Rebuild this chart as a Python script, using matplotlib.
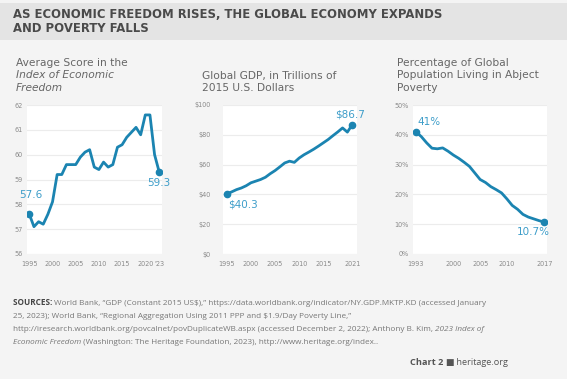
import matplotlib.pyplot as plt
from matplotlib.patches import Rectangle

plt.rcParams['font.family'] = ['DejaVu Sans']

# Index of Economic Freedom, average score
ief_years = list(range(1995, 2024))
ief_score = [57.6, 57.1, 57.3, 57.2, 57.6, 58.1, 59.2, 59.2, 59.6, 59.6,
             59.6, 59.9, 60.1, 60.2, 59.5, 59.4, 59.7, 59.5, 59.6, 60.3,
             60.4, 60.7, 60.9, 61.1, 60.8, 61.6, 61.6, 60.0, 59.3]
ief_ticks = [1995, 2000, 2005, 2010, 2015, 2020, 2023]
ief_ticklabels = ['1995', '2000', '2005', '2010', '2015', '2020', "'23"]

# Global GDP, trillions of 2015 US$
gdp_years = list(range(1995, 2022))
gdp_value = [40.3, 41.7, 43.2, 44.3, 45.8, 47.8, 48.9, 50.0, 51.5, 53.9,
             56.0, 58.5, 61.1, 62.3, 61.5, 64.4, 66.6, 68.4, 70.3, 72.4,
             74.6, 76.8, 79.4, 81.9, 84.6, 81.8, 86.7]
gdp_ticks = [1995, 2000, 2005, 2010, 2015, 2021]

# Share of global population in abject poverty, %
pov_years = list(range(1993, 2018))
pov_value = [41.0, 39.4, 37.3, 35.5, 35.3, 35.6, 34.5, 33.2, 32.1, 30.8,
             29.4, 27.2, 25.0, 24.0, 22.6, 21.6, 20.5, 18.5, 16.3, 15.0,
             13.3, 12.4, 11.8, 11.2, 10.7]
pov_ticks = [1993, 2000, 2005, 2010, 2017]

W, H = 567, 379
LINE = '#1b84b1'
LABEL = '#3d9dc9'
GRAY = '#8a8a8a'
TITLE_GRAY = '#666666'
SRC = '#777777'
SRC_FONT = ['Open Sans', 'DejaVu Sans']

fig = plt.figure(figsize=(W / 100, H / 100), dpi=100, facecolor='#f4f4f4')

# title band
fig.patches.append(Rectangle((0, 1 - 40 / H), 1, 37 / H, transform=fig.transFigure,
                             facecolor='#e4e4e4', edgecolor='none', zorder=0))
fig.text(13 / W, 1 - 15 / H, 'AS ECONOMIC FREEDOM RISES, THE GLOBAL ECONOMY EXPANDS',
         fontsize=8.4, fontweight='bold', color='#4a4a4a', va='center')
fig.text(13 / W, 1 - 29 / H, 'AND POVERTY FALLS',
         fontsize=8.4, fontweight='bold', color='#4a4a4a', va='center')


def make_axes(x0, x1, y0, y1):
    return fig.add_axes([x0 / W, 1 - y1 / H, (x1 - x0) / W, (y1 - y0) / H])


def style(ax, pad):
    ax.set_facecolor('white')
    for s in ax.spines.values():
        s.set_visible(False)
    ax.grid(axis='y', color='#ececec', linewidth=0.8)
    ax.set_axisbelow(True)
    ax.tick_params(length=0, labelsize=4.7, labelcolor=GRAY)
    ax.tick_params(axis='y', pad=pad)
    ax.tick_params(axis='x', pad=5)


def panel_title(x, lines, italic=()):
    ys = [63, 75.5, 88][3 - len(lines):]
    for i, (txt, y) in enumerate(zip(lines, ys)):
        fig.text(x / W, 1 - y / H, txt, fontsize=7.7, color=TITLE_GRAY, va='center',
                 style='italic' if i in italic else 'normal')


# panel 1
ax1 = make_axes(27, 162, 105, 254)
style(ax1, 3)
ax1.plot(ief_years, ief_score, color=LINE, lw=2)
ax1.plot([ief_years[0], ief_years[-1]], [ief_score[0], ief_score[-1]], 'o', color=LINE, ms=4.5)
ax1.set_xlim(1994.5, 2023.6)
ax1.set_ylim(56, 62)
ax1.set_yticks(range(56, 63))
ax1.set_xticks(ief_ticks, ief_ticklabels)
ax1.annotate('57.6', (ief_years[0], ief_score[0]), xytext=(1995.4, 58.38), ha='center',
             va='center', fontsize=7.5, color=LABEL)
ax1.annotate('59.3', (ief_years[-1], ief_score[-1]), xytext=(2023, 58.86), ha='center',
             va='center', fontsize=7.5, color=LABEL)
panel_title(16, ['Average Score in the', 'Index of Economic', 'Freedom'], italic=(1, 2))

# panel 2
ax2 = make_axes(223, 357, 105, 254)
style(ax2, 9)
ax2.plot(gdp_years, gdp_value, color=LINE, lw=2)
ax2.plot([gdp_years[0], gdp_years[-1]], [gdp_value[0], gdp_value[-1]], 'o', color=LINE, ms=4.5)
ax2.set_xlim(1994.2, 2022.0)
ax2.set_ylim(0, 100)
ax2.set_yticks(range(0, 101, 20), ['$%d' % v for v in range(0, 101, 20)])
ax2.set_xticks(gdp_ticks)
ax2.annotate('$40.3', (gdp_years[0], gdp_value[0]), xytext=(1998.3, 33.5), ha='center',
             va='center', fontsize=7.5, color=LABEL)
ax2.annotate('$86.7', (gdp_years[-1], gdp_value[-1]), xytext=(2020.6, 93.5), ha='center',
             va='center', fontsize=7.5, color=LABEL)
panel_title(202, ['Global GDP, in Trillions of', '2015 U.S. Dollars'])

# panel 3
ax3 = make_axes(413, 547, 105, 254)
style(ax3, 3)
ax3.plot(pov_years, pov_value, color=LINE, lw=2)
ax3.plot([pov_years[0], pov_years[-1]], [pov_value[0], pov_value[-1]], 'o', color=LINE, ms=4.5)
ax3.set_xlim(1992.45, 2017.5)
ax3.set_ylim(0, 50)
ax3.set_yticks(range(0, 51, 10), ['%d%%' % v for v in range(0, 51, 10)])
ax3.set_xticks(pov_ticks)
ax3.annotate('41%', (pov_years[0], pov_value[0]), xytext=(1995.5, 44.2), ha='center',
             va='center', fontsize=7.5, color=LABEL)
ax3.annotate('10.7%', (pov_years[-1], pov_value[-1]), xytext=(2015.0, 7.4), ha='center',
             va='center', fontsize=7.5, color=LABEL)
panel_title(397, ['Percentage of Global', 'Population Living in Abject', 'Poverty'])

# sources: each line is a run of pieces with their own weight / style,
# laid out one after the other on the same baseline
renderer = fig.canvas.get_renderer()


def chain(x, y, pieces, size=5.9):
    xpos = x
    for txt, color, weight, st in pieces:
        t = fig.text(xpos / W, 1 - y / H, txt, fontsize=size, color=color, fontweight=weight,
                     style=st, family=SRC_FONT, va='baseline', ha='left')
        xpos = t.get_window_extent(renderer).x1


chain(13, 305, [('SOURCES: ', '#444444', 'bold', 'normal'),
                ('World Bank, \u201cGDP (Constant 2015 US$),\u201d https://data.worldbank.org/indicator/'
                 'NY.GDP.MKTP.KD (accessed January', SRC, 'normal', 'normal')])
chain(13, 318, [('25, 2023); World Bank, \u201cRegional Aggregation Using 2011 PPP and $1.9/Day '
                 'Poverty Line,\u201d', SRC, 'normal', 'normal')])
chain(13, 331, [('http://iresearch.worldbank.org/povcalnet/povDuplicateWB.aspx (accessed December 2, '
                 '2022); Anthony B. Kim, ', SRC, 'normal', 'normal'),
                ('2023 Index of', SRC, 'normal', 'italic')])
chain(13, 344, [('Economic Freedom', SRC, 'normal', 'italic'),
                (' (Washington: The Heritage Foundation, 2023), http://www.heritage.org/index..',
                 SRC, 'normal', 'normal')])

chain(410, 365, [('Chart 2 ', '#555555', 'bold', 'normal'),
                 ('\u25a0', '#555555', 'normal', 'normal'),
                 (' heritage.org', '#555555', 'normal', 'normal')], size=6.6)

fig.savefig('out.png', dpi=100, facecolor=fig.get_facecolor())
